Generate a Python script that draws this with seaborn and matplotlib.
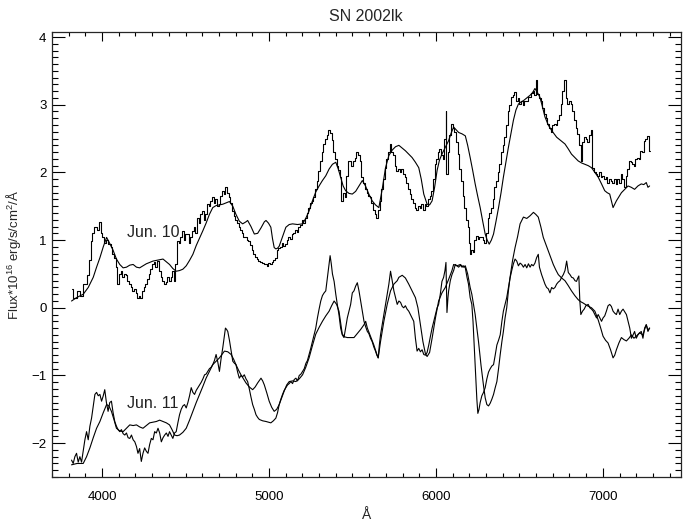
import matplotlib
matplotlib.use("Agg")
import matplotlib.pyplot as plt
import seaborn as sns
from matplotlib.ticker import MultipleLocator

# Jun. 10 observed (histogram style)
obs10_wave = [3817, 3837, 3857, 3877, 3897, 3917, 3927, 3937, 3947, 3957, 3977, 3987, 3997, 4007, 4017, 4027,
              4046, 4056, 4066, 4076, 4086, 4096, 4106, 4116, 4126, 4136, 4146, 4156, 4166, 4176, 4186, 4196,
              4206, 4216, 4225, 4235, 4245, 4255, 4265, 4275, 4285, 4295, 4305, 4315, 4325, 4335, 4345, 4355,
              4365, 4375, 4385, 4395, 4405, 4415, 4425, 4435, 4444, 4454, 4464, 4474, 4484, 4494, 4504, 4514,
              4524, 4534, 4544, 4554, 4564, 4574, 4584, 4594, 4604, 4614, 4623, 4633, 4643, 4653, 4663, 4673,
              4683, 4693, 4703, 4713, 4723, 4733, 4743, 4753, 4763, 4773, 4783, 4793, 4803, 4813, 4822, 4832,
              4842, 4852, 4862, 4872, 4882, 4892, 4902, 4912, 4922, 4932, 4942, 4952, 4962, 4972, 4982, 4992,
              5001, 5011, 5022, 5031, 5041, 5051, 5061, 5071, 5081, 5091, 5101, 5111, 5121, 5131, 5141, 5151,
              5161, 5171, 5181, 5191, 5201, 5211, 5221, 5230, 5240, 5250, 5260, 5270, 5280, 5290, 5300, 5310,
              5320, 5330, 5340, 5350, 5360, 5370, 5380, 5390, 5400, 5410, 5419, 5429, 5439, 5449, 5459, 5469,
              5479, 5489, 5499, 5509, 5519, 5529, 5539, 5549, 5559, 5569, 5579, 5589, 5598, 5608, 5618, 5628,
              5638, 5648, 5658, 5668, 5678, 5688, 5698, 5708, 5718, 5728, 5738, 5748, 5758, 5768, 5778, 5788,
              5798, 5807, 5817, 5827, 5837, 5847, 5857, 5867, 5877, 5887, 5897, 5907, 5917, 5927, 5937, 5947,
              5957, 5967, 5977, 5987, 5997, 6007, 6016, 6026, 6036, 6046, 6056, 6060, 6066, 6076, 6086, 6096,
              6106, 6116, 6126, 6136, 6146, 6156, 6166, 6176, 6186, 6195, 6205, 6209, 6215, 6225, 6235, 6245,
              6255, 6265, 6275, 6285, 6295, 6305, 6315, 6325, 6335, 6345, 6355, 6365, 6375, 6385, 6395, 6404,
              6414, 6424, 6434, 6444, 6454, 6464, 6474, 6484, 6494, 6504, 6514, 6524, 6534, 6544, 6554, 6564,
              6574, 6584, 6593, 6603, 6613, 6623, 6633, 6643, 6653, 6663, 6673, 6683, 6693, 6703, 6713, 6723,
              6733, 6743, 6753, 6763, 6773, 6783, 6793, 6803, 6812, 6822, 6832, 6842, 6852, 6862, 6872, 6882,
              6892, 6902, 6912, 6922, 6932, 6942, 6952, 6962, 6972, 6982, 6992, 7001, 7011, 7021, 7031, 7041,
              7051, 7061, 7071, 7081, 7091, 7101, 7111, 7121, 7131, 7141, 7151, 7161, 7171, 7181, 7190, 7200,
              7210, 7220, 7230, 7240, 7250, 7260, 7270, 7280]
obs10_flux = [0.28, 0.15, 0.25, 0.18, 0.35, 0.49, 0.70, 0.99, 1.10, 1.19, 1.15, 1.26, 1.10, 1.04, 0.95, 1.00,
              0.94, 0.90, 0.80, 0.74, 0.60, 0.35, 0.50, 0.54, 0.45, 0.50, 0.49, 0.40, 0.35, 0.30, 0.25, 0.28,
              0.22, 0.15, 0.18, 0.15, 0.25, 0.30, 0.35, 0.42, 0.50, 0.58, 0.64, 0.68, 0.60, 0.69, 0.55, 0.45,
              0.40, 0.35, 0.38, 0.45, 0.40, 0.45, 0.55, 0.40, 0.64, 0.99, 0.95, 1.05, 1.14, 1.00, 1.09, 1.09,
              0.95, 1.05, 1.14, 1.20, 1.10, 1.33, 1.25, 1.38, 1.43, 1.30, 1.38, 1.53, 1.50, 1.58, 1.63, 1.55,
              1.60, 1.50, 1.53, 1.65, 1.73, 1.68, 1.78, 1.70, 1.63, 1.55, 1.43, 1.35, 1.30, 1.25, 1.19, 1.15,
              1.10, 1.04, 1.05, 1.00, 0.99, 0.93, 0.85, 0.79, 0.75, 0.72, 0.69, 0.68, 0.66, 0.64, 0.64, 0.62,
              0.66, 0.64, 0.67, 0.70, 0.74, 0.85, 0.89, 0.90, 0.95, 0.92, 0.94, 1.00, 1.05, 1.02, 1.09, 1.10,
              1.15, 1.12, 1.19, 1.22, 1.29, 1.25, 1.33, 1.40, 1.48, 1.55, 1.58, 1.63, 1.75, 1.88, 2.02, 2.17,
              2.30, 2.42, 2.50, 2.55, 2.62, 2.58, 2.48, 2.30, 2.20, 2.10, 2.03, 1.93, 1.58, 1.70, 1.63, 1.95,
              2.17, 2.17, 2.10, 2.17, 2.22, 2.30, 2.25, 2.17, 1.93, 1.85, 1.75, 1.70, 1.65, 1.63, 1.55, 1.45,
              1.38, 1.33, 1.45, 1.58, 1.75, 1.90, 2.07, 2.20, 2.30, 2.42, 2.30, 2.25, 2.10, 2.02, 2.05, 2.00,
              2.05, 1.98, 1.93, 1.85, 1.75, 1.68, 1.60, 1.55, 1.48, 1.45, 1.50, 1.47, 1.53, 1.45, 1.53, 1.50,
              1.60, 1.65, 1.73, 1.90, 2.12, 2.20, 2.30, 2.35, 2.25, 2.20, 2.50, 2.91, 1.98, 2.30, 2.55, 2.72,
              2.65, 2.60, 2.45, 2.27, 2.05, 1.88, 1.65, 1.48, 1.30, 1.19, 0.95, 0.79, 0.85, 0.82, 1.00, 1.06,
              1.02, 1.05, 1.04, 1.00, 0.96, 1.10, 1.33, 1.40, 1.48, 1.60, 1.78, 1.88, 2.00, 2.12, 2.30, 2.40,
              2.52, 2.70, 2.91, 3.00, 3.11, 3.15, 3.19, 3.05, 3.10, 3.01, 3.05, 3.00, 3.06, 3.05, 3.12, 3.11,
              3.18, 3.21, 3.15, 3.36, 3.16, 3.10, 3.06, 2.95, 2.86, 2.80, 2.72, 2.65, 2.59, 2.70, 2.72, 2.70,
              2.77, 2.85, 3.01, 3.20, 3.36, 3.10, 3.01, 3.05, 3.01, 2.90, 2.77, 2.65, 2.57, 2.40, 2.17, 2.45,
              2.52, 2.50, 2.45, 2.55, 2.62, 2.07, 2.00, 1.98, 1.95, 2.00, 1.93, 1.95, 1.90, 1.93, 1.85, 1.90,
              1.88, 1.85, 1.90, 1.83, 1.90, 1.85, 1.98, 1.90, 1.78, 1.95, 2.05, 2.17, 2.15, 2.12, 2.10, 2.20,
              2.22, 2.20, 2.32, 2.30, 2.47, 2.50, 2.54, 2.32]

# Jun. 10 model
mod10_wave = [3817, 3847, 3887, 3917, 3947, 3967, 3987, 4007, 4027, 4046, 4066, 4086, 4106, 4126, 4146, 4166,
              4186, 4206, 4225, 4245, 4265, 4285, 4305, 4325, 4345, 4365, 4385, 4404, 4424, 4444, 4464, 4484,
              4504, 4524, 4544, 4564, 4584, 4604, 4623, 4643, 4663, 4683, 4703, 4723, 4743, 4763, 4783, 4802,
              4822, 4842, 4862, 4872, 4892, 4912, 4932, 4952, 4972, 4982, 4997, 5011, 5021, 5031, 5041, 5051,
              5061, 5081, 5101, 5121, 5141, 5171, 5201, 5220, 5240, 5260, 5280, 5300, 5320, 5340, 5360, 5380,
              5400, 5415, 5429, 5444, 5459, 5479, 5499, 5519, 5539, 5559, 5578, 5598, 5618, 5638, 5658, 5678,
              5698, 5718, 5738, 5758, 5778, 5798, 5817, 5837, 5857, 5877, 5897, 5912, 5927, 5947, 5962, 5977,
              5992, 6007, 6021, 6036, 6056, 6076, 6091, 6106, 6121, 6136, 6156, 6176, 6190, 6205, 6220, 6235,
              6250, 6265, 6280, 6295, 6307, 6319, 6332, 6345, 6360, 6375, 6390, 6404, 6419, 6434, 6449, 6464,
              6479, 6494, 6509, 6524, 6544, 6564, 6579, 6593, 6608, 6623, 6638, 6653, 6673, 6693, 6708, 6723,
              6748, 6773, 6792, 6812, 6832, 6852, 6872, 6892, 6912, 6932, 6952, 6972, 6992, 7011, 7026, 7041,
              7051, 7061, 7071, 7081, 7096, 7111, 7131, 7151, 7170, 7190, 7210, 7230, 7245, 7260, 7270, 7280]
mod10_flux = [0.10, 0.15, 0.20, 0.30, 0.45, 0.60, 0.74, 0.90, 1.04, 0.95, 0.85, 0.72, 0.64, 0.59, 0.60, 0.63,
              0.64, 0.60, 0.59, 0.62, 0.65, 0.67, 0.69, 0.70, 0.71, 0.72, 0.68, 0.64, 0.58, 0.54, 0.55, 0.57,
              0.62, 0.70, 0.79, 0.92, 1.03, 1.14, 1.25, 1.38, 1.48, 1.51, 1.52, 1.53, 1.55, 1.57, 1.50, 1.38,
              1.28, 1.24, 1.27, 1.29, 1.20, 1.09, 1.10, 1.18, 1.27, 1.29, 1.25, 1.19, 1.02, 0.89, 0.87, 0.88,
              0.91, 1.05, 1.19, 1.23, 1.24, 1.23, 1.24, 1.32, 1.43, 1.58, 1.71, 1.80, 1.88, 1.95, 2.05, 2.12,
              2.15, 2.05, 1.93, 1.80, 1.73, 1.69, 1.68, 1.72, 1.80, 1.88, 1.80, 1.68, 1.58, 1.52, 1.48, 1.75,
              2.07, 2.25, 2.33, 2.38, 2.40, 2.36, 2.32, 2.27, 2.22, 2.15, 2.07, 1.90, 1.68, 1.53, 1.52, 1.58,
              1.78, 2.03, 2.18, 2.27, 2.37, 2.47, 2.58, 2.67, 2.63, 2.59, 2.57, 2.54, 2.40, 2.22, 2.03, 1.83,
              1.65, 1.48, 1.28, 1.09, 1.00, 0.94, 1.00, 1.09, 1.28, 1.48, 1.70, 1.93, 2.15, 2.37, 2.57, 2.77,
              2.92, 3.01, 3.04, 3.06, 3.10, 3.14, 3.18, 3.24, 3.18, 3.11, 2.97, 2.82, 2.70, 2.62, 2.57, 2.52,
              2.47, 2.42, 2.35, 2.27, 2.22, 2.17, 2.14, 2.12, 2.10, 2.07, 2.00, 1.93, 1.83, 1.73, 1.70, 1.68,
              1.58, 1.48, 1.53, 1.58, 1.64, 1.70, 1.75, 1.80, 1.78, 1.75, 1.80, 1.83, 1.82, 1.85, 1.78, 1.80]

# Jun. 11 observed
obs11_wave = [3817, 3827, 3837, 3847, 3857, 3867, 3877, 3887, 3897, 3907, 3917, 3927, 3937, 3947, 3957, 3967,
              3977, 3987, 3997, 4007, 4016, 4026, 4036, 4046, 4056, 4066, 4076, 4086, 4096, 4106, 4116, 4126,
              4136, 4146, 4156, 4166, 4176, 4186, 4196, 4206, 4215, 4225, 4235, 4245, 4255, 4265, 4275, 4285,
              4295, 4305, 4315, 4325, 4335, 4345, 4355, 4365, 4375, 4385, 4395, 4404, 4414, 4424, 4434, 4444,
              4454, 4464, 4474, 4484, 4494, 4504, 4514, 4524, 4534, 4544, 4554, 4564, 4574, 4584, 4594, 4604,
              4614, 4623, 4633, 4643, 4653, 4663, 4673, 4683, 4693, 4703, 4713, 4723, 4731, 4739, 4746, 4753,
              4763, 4773, 4783, 4793, 4802, 4812, 4822, 4832, 4842, 4852, 4862, 4872, 4882, 4892, 4902, 4912,
              4922, 4932, 4942, 4962, 4982, 4997, 5011, 5026, 5041, 5051, 5061, 5071, 5081, 5091, 5101, 5111,
              5121, 5131, 5141, 5151, 5161, 5171, 5181, 5191, 5201, 5211, 5221, 5230, 5240, 5250, 5260, 5270,
              5280, 5290, 5300, 5310, 5320, 5330, 5340, 5350, 5358, 5366, 5373, 5380, 5390, 5400, 5409, 5419,
              5429, 5439, 5449, 5459, 5469, 5479, 5489, 5499, 5509, 5519, 5529, 5539, 5549, 5559, 5569, 5579,
              5589, 5598, 5608, 5618, 5628, 5638, 5646, 5654, 5661, 5668, 5678, 5688, 5698, 5708, 5718, 5728,
              5738, 5748, 5758, 5768, 5778, 5788, 5798, 5807, 5817, 5827, 5837, 5847, 5857, 5867, 5877, 5887,
              5897, 5907, 5917, 5927, 5937, 5947, 5957, 5967, 5977, 5987, 5997, 6007, 6016, 6026, 6036, 6046,
              6054, 6060, 6063, 6066, 6072, 6076, 6086, 6096, 6106, 6116, 6126, 6136, 6146, 6156, 6166, 6176,
              6186, 6195, 6205, 6215, 6222, 6230, 6238, 6245, 6251, 6258, 6265, 6275, 6285, 6295, 6305, 6315,
              6325, 6335, 6345, 6355, 6365, 6375, 6385, 6395, 6404, 6414, 6424, 6434, 6444, 6454, 6464, 6474,
              6484, 6494, 6504, 6514, 6524, 6534, 6544, 6554, 6564, 6573, 6583, 6593, 6603, 6613, 6620, 6633,
              6643, 6653, 6663, 6673, 6683, 6693, 6703, 6713, 6723, 6733, 6743, 6753, 6763, 6773, 6783, 6793,
              6803, 6813, 6823, 6833, 6842, 6850, 6856, 6862, 6868, 6878, 6888, 6898, 6912, 6922, 6932, 6942,
              6952, 6962, 6972, 6982, 6992, 7001, 7011, 7021, 7031, 7041, 7051, 7061, 7071, 7081, 7091, 7101,
              7111, 7121, 7131, 7141, 7151, 7161, 7171, 7181, 7190, 7200, 7210, 7220, 7230, 7240, 7250, 7260,
              7270, 7280]
obs11_flux = [-2.25, -2.30, -2.20, -2.15, -2.28, -2.20, -2.28, -2.12, -1.95, -1.83, -1.95, -1.75, -1.63, -1.45, -1.28, -1.25,
              -1.30, -1.28, -1.38, -1.30, -1.21, -1.40, -1.53, -1.40, -1.38, -1.55, -1.68, -1.75, -1.80, -1.83, -1.80, -1.86,
              -1.88, -1.85, -1.92, -1.93, -1.88, -1.95, -1.98, -2.05, -2.15, -2.08, -2.27, -2.15, -2.07, -2.12, -2.15, -2.02,
              -1.93, -1.95, -1.83, -1.85, -1.78, -1.85, -1.98, -1.92, -1.88, -1.85, -1.90, -1.83, -1.88, -1.93, -1.85, -1.83,
              -1.70, -1.58, -1.50, -1.45, -1.43, -1.48, -1.40, -1.30, -1.18, -1.25, -1.28, -1.22, -1.18, -1.14, -1.10, -1.05,
              -0.99, -0.98, -0.94, -0.90, -0.88, -0.84, -0.78, -0.69, -0.80, -0.94, -0.75, -0.59, -0.45, -0.30, -0.32, -0.35,
              -0.48, -0.64, -0.79, -0.82, -0.84, -0.95, -1.04, -1.00, -1.02, -0.99, -1.05, -1.09, -1.20, -1.32, -1.43, -1.50,
              -1.58, -1.62, -1.65, -1.67, -1.68, -1.69, -1.70, -1.67, -1.63, -1.55, -1.43, -1.35, -1.28, -1.22, -1.18, -1.14,
              -1.12, -1.09, -1.12, -1.06, -1.04, -1.08, -1.00, -0.98, -0.94, -0.90, -0.82, -0.78, -0.69, -0.60, -0.50, -0.40,
              -0.30, -0.15, -0.02, 0.10, 0.18, 0.22, 0.25, 0.45, 0.62, 0.77, 0.65, 0.50, 0.39, 0.20, 0.05, -0.10,
              -0.30, -0.40, -0.44, -0.30, -0.15, -0.05, 0.05, 0.22, 0.25, 0.32, 0.37, 0.25, 0.10, -0.05, -0.20, -0.28,
              -0.35, -0.38, -0.45, -0.50, -0.58, -0.64, -0.70, -0.74, -0.55, -0.40, -0.25, -0.10, 0.05, 0.20, 0.35, 0.54,
              0.40, 0.25, 0.15, 0.05, 0.10, 0.08, 0.02, 0.00, 0.03, -0.02, -0.05, -0.10, -0.15, -0.20, -0.45, -0.64,
              -0.60, -0.65, -0.62, -0.69, -0.70, -0.66, -0.55, -0.42, -0.30, -0.20, -0.10, 0.00, 0.05, 0.20, 0.39, 0.45,
              0.55, 0.67, 0.30, -0.07, 0.15, 0.25, 0.40, 0.49, 0.55, 0.64, 0.62, 0.60, 0.63, 0.60, 0.62, 0.59,
              0.45, 0.35, 0.15, 0.05, -0.20, -0.60, -1.00, -1.35, -1.56, -1.50, -1.40, -1.30, -1.25, -1.18, -1.05, -0.95,
              -0.90, -0.86, -0.84, -0.70, -0.55, -0.48, -0.40, -0.20, -0.05, 0.05, 0.15, 0.30, 0.44, 0.55, 0.65, 0.72,
              0.69, 0.62, 0.66, 0.64, 0.60, 0.64, 0.59, 0.65, 0.60, 0.64, 0.62, 0.66, 0.74, 0.79, 0.60, 0.49,
              0.42, 0.35, 0.30, 0.28, 0.22, 0.30, 0.28, 0.30, 0.35, 0.38, 0.40, 0.45, 0.49, 0.55, 0.69, 0.52,
              0.49, 0.45, 0.44, 0.40, 0.39, 0.44, 0.47, 0.10, -0.10, -0.05, -0.02, 0.03, 0.05, 0.00, -0.02, -0.05,
              -0.10, -0.15, -0.10, -0.15, -0.20, -0.15, -0.12, -0.05, 0.03, 0.05, 0.02, -0.05, -0.08, -0.10, -0.02, -0.10,
              -0.05, -0.02, -0.06, -0.10, -0.20, -0.30, -0.45, -0.40, -0.35, -0.45, -0.40, -0.37, -0.35, -0.45, -0.30, -0.25,
              -0.35, -0.30]

# Jun. 11 model
mod11_wave = [3817, 3850, 3887, 3907, 3927, 3947, 3967, 3987, 4007, 4027, 4041, 4056, 4071, 4086, 4106, 4126,
              4146, 4166, 4186, 4206, 4225, 4245, 4265, 4285, 4305, 4325, 4345, 4365, 4385, 4404, 4419, 4434,
              4449, 4464, 4484, 4504, 4524, 4544, 4564, 4584, 4604, 4623, 4643, 4663, 4683, 4703, 4718, 4733,
              4753, 4773, 4788, 4802, 4817, 4832, 4847, 4862, 4882, 4902, 4917, 4932, 4952, 4962, 4972, 4987,
              5001, 5016, 5031, 5046, 5061, 5076, 5091, 5106, 5121, 5141, 5161, 5181, 5201, 5220, 5240, 5260,
              5280, 5300, 5320, 5340, 5360, 5375, 5390, 5405, 5419, 5429, 5439, 5454, 5469, 5489, 5509, 5529,
              5549, 5569, 5579, 5589, 5608, 5628, 5645, 5654, 5668, 5688, 5708, 5728, 5748, 5768, 5778, 5798,
              5817, 5837, 5857, 5877, 5892, 5907, 5922, 5937, 5947, 5962, 5977, 5997, 6016, 6036, 6056, 6076,
              6096, 6106, 6126, 6146, 6166, 6176, 6190, 6205, 6215, 6235, 6255, 6270, 6285, 6295, 6305, 6315,
              6325, 6335, 6345, 6355, 6365, 6375, 6385, 6395, 6404, 6414, 6424, 6434, 6444, 6459, 6474, 6489,
              6504, 6524, 6544, 6564, 6584, 6598, 6613, 6628, 6643, 6658, 6673, 6688, 6703, 6718, 6733, 6753,
              6773, 6792, 6812, 6832, 6852, 6867, 6882, 6907, 6932, 6952, 6972, 6987, 7001, 7016, 7031, 7046,
              7061, 7071, 7081, 7096, 7111, 7126, 7141, 7156, 7171, 7186, 7200, 7220, 7240, 7250, 7260, 7270,
              7280]
mod11_flux = [-2.32, -2.30, -2.30, -2.20, -2.07, -1.92, -1.78, -1.68, -1.55, -1.43, -1.45, -1.53, -1.65, -1.78, -1.82, -1.83,
              -1.78, -1.73, -1.74, -1.73, -1.76, -1.78, -1.74, -1.70, -1.69, -1.68, -1.66, -1.68, -1.70, -1.73, -1.80, -1.88,
              -1.89, -1.88, -1.84, -1.78, -1.66, -1.53, -1.40, -1.28, -1.16, -1.04, -0.94, -0.84, -0.79, -0.74, -0.69, -0.64,
              -0.65, -0.69, -0.76, -0.84, -0.92, -0.99, -1.05, -1.11, -1.17, -1.21, -1.17, -1.11, -1.04, -1.08, -1.14, -1.26,
              -1.38, -1.47, -1.53, -1.50, -1.43, -1.33, -1.23, -1.14, -1.09, -1.08, -1.09, -1.05, -0.99, -0.88, -0.74, -0.56,
              -0.39, -0.29, -0.20, -0.12, -0.05, 0.03, 0.10, 0.05, -0.05, -0.22, -0.39, -0.43, -0.44, -0.44, -0.44, -0.38,
              -0.32, -0.25, -0.20, -0.30, -0.42, -0.55, -0.68, -0.74, -0.50, -0.20, 0.05, 0.25, 0.35, 0.40, 0.45, 0.48,
              0.44, 0.35, 0.25, 0.15, 0.00, -0.25, -0.50, -0.68, -0.72, -0.66, -0.45, -0.15, 0.10, 0.22, 0.30, 0.42,
              0.55, 0.64, 0.62, 0.64, 0.60, 0.62, 0.50, 0.30, 0.20, -0.10, -0.50, -0.85, -1.15, -1.33, -1.43, -1.45,
              -1.41, -1.35, -1.28, -1.18, -1.09, -0.90, -0.69, -0.50, -0.35, -0.15, 0.00, 0.25, 0.45, 0.70, 0.89, 1.05,
              1.24, 1.34, 1.32, 1.36, 1.41, 1.38, 1.34, 1.20, 1.04, 0.94, 0.84, 0.74, 0.64, 0.56, 0.49, 0.44,
              0.40, 0.33, 0.25, 0.18, 0.12, 0.09, 0.07, 0.03, 0.00, -0.05, -0.18, -0.30, -0.42, -0.48, -0.52, -0.62,
              -0.74, -0.70, -0.62, -0.52, -0.44, -0.47, -0.49, -0.45, -0.40, -0.45, -0.42, -0.37, -0.40, -0.32, -0.25, -0.33,
              -0.30]

sns.set_style("ticks")
plt.rcParams['font.family'] = ['Liberation Sans', 'DejaVu Sans']
plt.rcParams['mathtext.fontset'] = 'custom'
plt.rcParams['mathtext.rm'] = 'Liberation Sans'

fig = plt.figure(figsize=(6.83, 5.24), dpi=100)
ax = fig.add_axes([52 / 683, 1 - 477 / 524, 628.5 / 683, 444.7 / 524])

sns.lineplot(x=obs10_wave, y=obs10_flux, ax=ax, color='black', lw=0.8, estimator=None, sort=False,
             drawstyle='steps-mid')
sns.lineplot(x=mod10_wave, y=mod10_flux, ax=ax, color='black', lw=0.8, estimator=None, sort=False)
sns.lineplot(x=obs11_wave, y=obs11_flux, ax=ax, color='black', lw=0.8, estimator=None, sort=False)
sns.lineplot(x=mod11_wave, y=mod11_flux, ax=ax, color='black', lw=0.8, estimator=None, sort=False)

ax.text(4152, 1.107, 'Jun. 10', fontsize=11.5, va='center', ha='left', color='#222222')
ax.text(4152, -1.42, 'Jun. 11', fontsize=11.5, va='center', ha='left', color='#222222')

ax.set_xlim(3700, 7465)
ax.set_ylim(-2.5, 4.07)
ax.xaxis.set_major_locator(MultipleLocator(1000))
ax.xaxis.set_minor_locator(MultipleLocator(100))
ax.yaxis.set_major_locator(MultipleLocator(1))
ax.yaxis.set_minor_locator(MultipleLocator(0.1))
ax.tick_params(which='both', direction='in', top=True, right=True, width=0.8, colors='black',
               labelsize=9.5)
ax.tick_params(axis='x', which='major', length=6.4, pad=10)
ax.tick_params(axis='x', which='minor', length=3.2)
ax.tick_params(axis='y', which='major', length=9.1, pad=4)
ax.tick_params(axis='y', which='minor', length=4.5)
for s in ax.spines.values():
    s.set_linewidth(0.9)

ax.set_title('SN 2002lk', fontsize=11.5, pad=8)
ax.set_xlabel('Å', fontsize=10)
ax.set_ylabel(r'Flux*10$^{16}$ erg/s/cm$^{2}$/Å', fontsize=9.5, labelpad=6)

fig.savefig('out.png', dpi=100)
